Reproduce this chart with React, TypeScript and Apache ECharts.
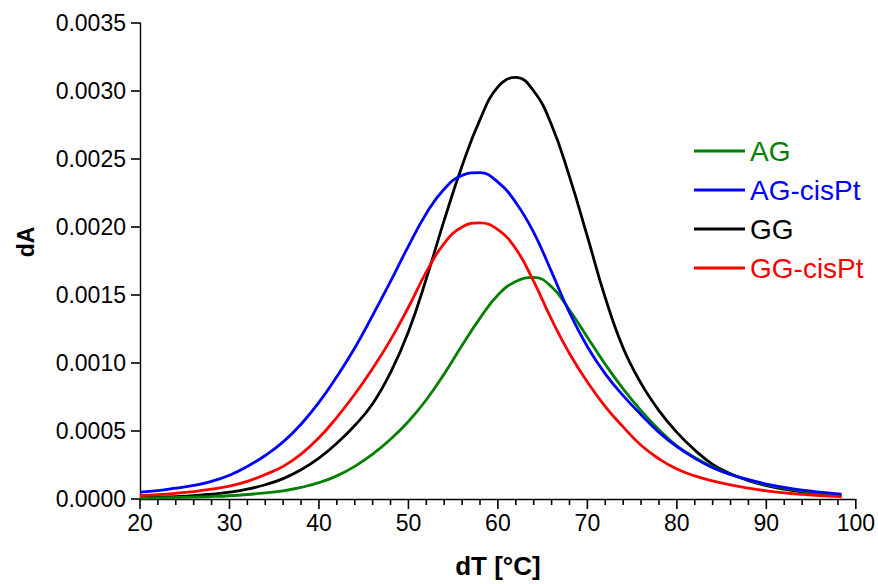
import React, { useEffect, useRef } from "react";
import * as echarts from "echarts";

// Temperature grid [°C]
const temps = [20, 22, 24, 26, 28, 30, 32, 34, 36, 38, 40, 42, 44, 46, 48, 50, 52, 54, 56, 58, 60, 62, 64, 66, 68, 70, 72, 74, 76, 78, 80, 82, 84, 86, 88, 90, 92, 94, 96, 98.4];

// dA values in units of 1e-4
const agE4 = [0.07, 0.09, 0.11, 0.14, 0.18, 0.24, 0.33, 0.45, 0.6, 0.85, 1.2, 1.7, 2.4, 3.3, 4.4, 5.7, 7.3, 9.2, 11.3, 13.3, 15.0, 16.0, 16.3, 15.6, 13.9, 11.9, 9.9, 8.1, 6.5, 5.1, 3.9, 3.05, 2.35, 1.8, 1.4, 1.05, 0.8, 0.6, 0.42, 0.26];
const agCisPtE4 = [0.5, 0.62, 0.8, 1.0, 1.3, 1.75, 2.4, 3.2, 4.2, 5.5, 7.1, 9.0, 11.1, 13.5, 16.0, 18.6, 21.0, 22.8, 23.8, 24.0, 23.3, 21.8, 19.6, 16.7, 13.7, 11.2, 9.2, 7.6, 6.2, 4.9, 3.85, 3.0, 2.3, 1.8, 1.42, 1.1, 0.85, 0.65, 0.5, 0.35];
const ggE4 = [0.1, 0.13, 0.18, 0.25, 0.35, 0.5, 0.72, 1.05, 1.5, 2.15, 3.0, 4.1, 5.4, 7.0, 9.3, 12.3, 16.2, 20.5, 24.5, 27.9, 30.3, 31.0, 30.0, 27.5, 23.7, 19.3, 14.8, 11.1, 8.5, 6.5, 4.9, 3.6, 2.55, 1.85, 1.35, 0.98, 0.72, 0.52, 0.36, 0.22];
const ggCisPtE4 = [0.25, 0.32, 0.42, 0.55, 0.72, 0.95, 1.3, 1.8, 2.4, 3.3, 4.5, 6.0, 7.7, 9.6, 11.7, 14.1, 16.7, 18.8, 20.0, 20.3, 19.8, 18.4, 16.0, 13.2, 10.7, 8.6, 6.8, 5.3, 3.95, 2.95, 2.2, 1.7, 1.33, 1.03, 0.8, 0.6, 0.45, 0.34, 0.25, 0.17];

const seriesNames = ["AG", "AG-cisPt", "GG", "GG-cisPt"];
const seriesColors = ["#008000", "#0000ff", "#000000", "#ff0000"];
const seriesValues = [agE4, agCisPtE4, ggE4, ggCisPtE4];

// Axis tick positions
const xMajorTicks = [20, 30, 40, 50, 60, 70, 80, 90, 100];
const xMinorTicks = [22, 24, 26, 28, 32, 34, 36, 38, 42, 44, 46, 48, 52, 54, 56, 58, 62, 64, 66, 68, 72, 74, 76, 78, 82, 84, 86, 88, 92, 94, 96, 98];
const yMajorTicks = [0, 0.0005, 0.001, 0.0015, 0.002, 0.0025, 0.003, 0.0035];

const FONT = "'Liberation Sans', Arial, Helvetica, sans-serif";

export default function App() {
  const ref = useRef<HTMLDivElement>(null);
  useEffect(() => {
    if (!ref.current) return;
    const chart = echarts.init(ref.current, undefined, { renderer: "svg" });
    const axisLineStyle = { color: "#000", width: 1.4 };
    const tickData = [
      ...xMajorTicks.map((v) => [v, 0, 0]),
      ...xMinorTicks.map((v) => [v, 0, 1]),
      ...yMajorTicks.map((v) => [20, v, 2]),
    ];
    const option = {
      animation: false,
      backgroundColor: "#ffffff",
      grid: { left: 140, right: 22, top: 23, bottom: 84, containLabel: false },
      legend: {
        orient: "vertical",
        left: 694,
        top: 136,
        padding: 0,
        itemWidth: 51,
        itemHeight: 3,
        itemGap: 9,
        icon: "rect",
        textStyle: { fontFamily: FONT, fontSize: 28, lineHeight: 30 },
        data: seriesNames.map((n, i) => ({ name: n, textStyle: { color: seriesColors[i] } })),
      },
      xAxis: {
        type: "value",
        min: 20,
        max: 100,
        interval: 10,
        name: "dT [°C]",
        nameLocation: "middle",
        nameGap: 54,
        nameTextStyle: { fontFamily: FONT, fontSize: 26, fontWeight: "bold", color: "#000" },
        axisLine: { show: true, onZero: false, lineStyle: axisLineStyle },
        axisTick: { show: false },
        axisLabel: { show: true, fontFamily: FONT, fontSize: 23, color: "#000", margin: 12 },
        splitLine: { show: false },
      },
      yAxis: {
        type: "value",
        min: 0,
        max: 0.0035,
        interval: 0.0005,
        name: "dA",
        nameLocation: "middle",
        nameGap: 103,
        nameRotate: 90,
        nameTextStyle: {
          fontFamily: FONT,
          fontSize: 23,
          fontWeight: "bold",
          color: "#000",
          padding: [0, 0, 0, 38],
        },
        axisLine: { show: true, onZero: false, lineStyle: axisLineStyle },
        axisTick: { show: false },
        axisLabel: {
          show: true,
          fontFamily: FONT,
          fontSize: 23,
          color: "#000",
          margin: 14,
          formatter: (v: number) => v.toFixed(4),
        },
        splitLine: { show: false },
      },
      series: [
        ...seriesNames.map((n, i) => ({
          name: n,
          type: "line",
          smooth: 0.45,
          showSymbol: false,
          symbol: "none",
          color: seriesColors[i],
          lineStyle: { color: seriesColors[i], width: 2.8 },
          data: temps.map((t, j) => [t, seriesValues[i][j] * 1e-4]),
          z: [3, 4, 2, 5][i],
        })),
        {
          name: "ticks",
          type: "custom",
          silent: true,
          clip: false,
          z: 10,
          encode: { x: 0, y: 1 },
          data: tickData,
          renderItem: (_params: any, api: any) => {
            const kind = api.value(2);
            const p = api.coord([api.value(0), api.value(1)]);
            if (kind === 2) {
              return {
                type: "line",
                shape: { x1: p[0] - 9, y1: p[1], x2: p[0], y2: p[1] },
                style: { stroke: "#000000", lineWidth: 1.6 },
              };
            }
            const len = kind === 0 ? 10 : 6;
            return {
              type: "line",
              shape: { x1: p[0], y1: p[1], x2: p[0], y2: p[1] + len },
              style: { stroke: "#000000", lineWidth: 1.6 },
            };
          },
        },
      ],
    };
    chart.setOption(option as any);
    return () => chart.dispose();
  }, []);
  return (
    <div
      ref={ref}
      style={{ position: "absolute", left: 0, top: 0, width: 878, height: 584, background: "#fff" }}
    />
  );
}
